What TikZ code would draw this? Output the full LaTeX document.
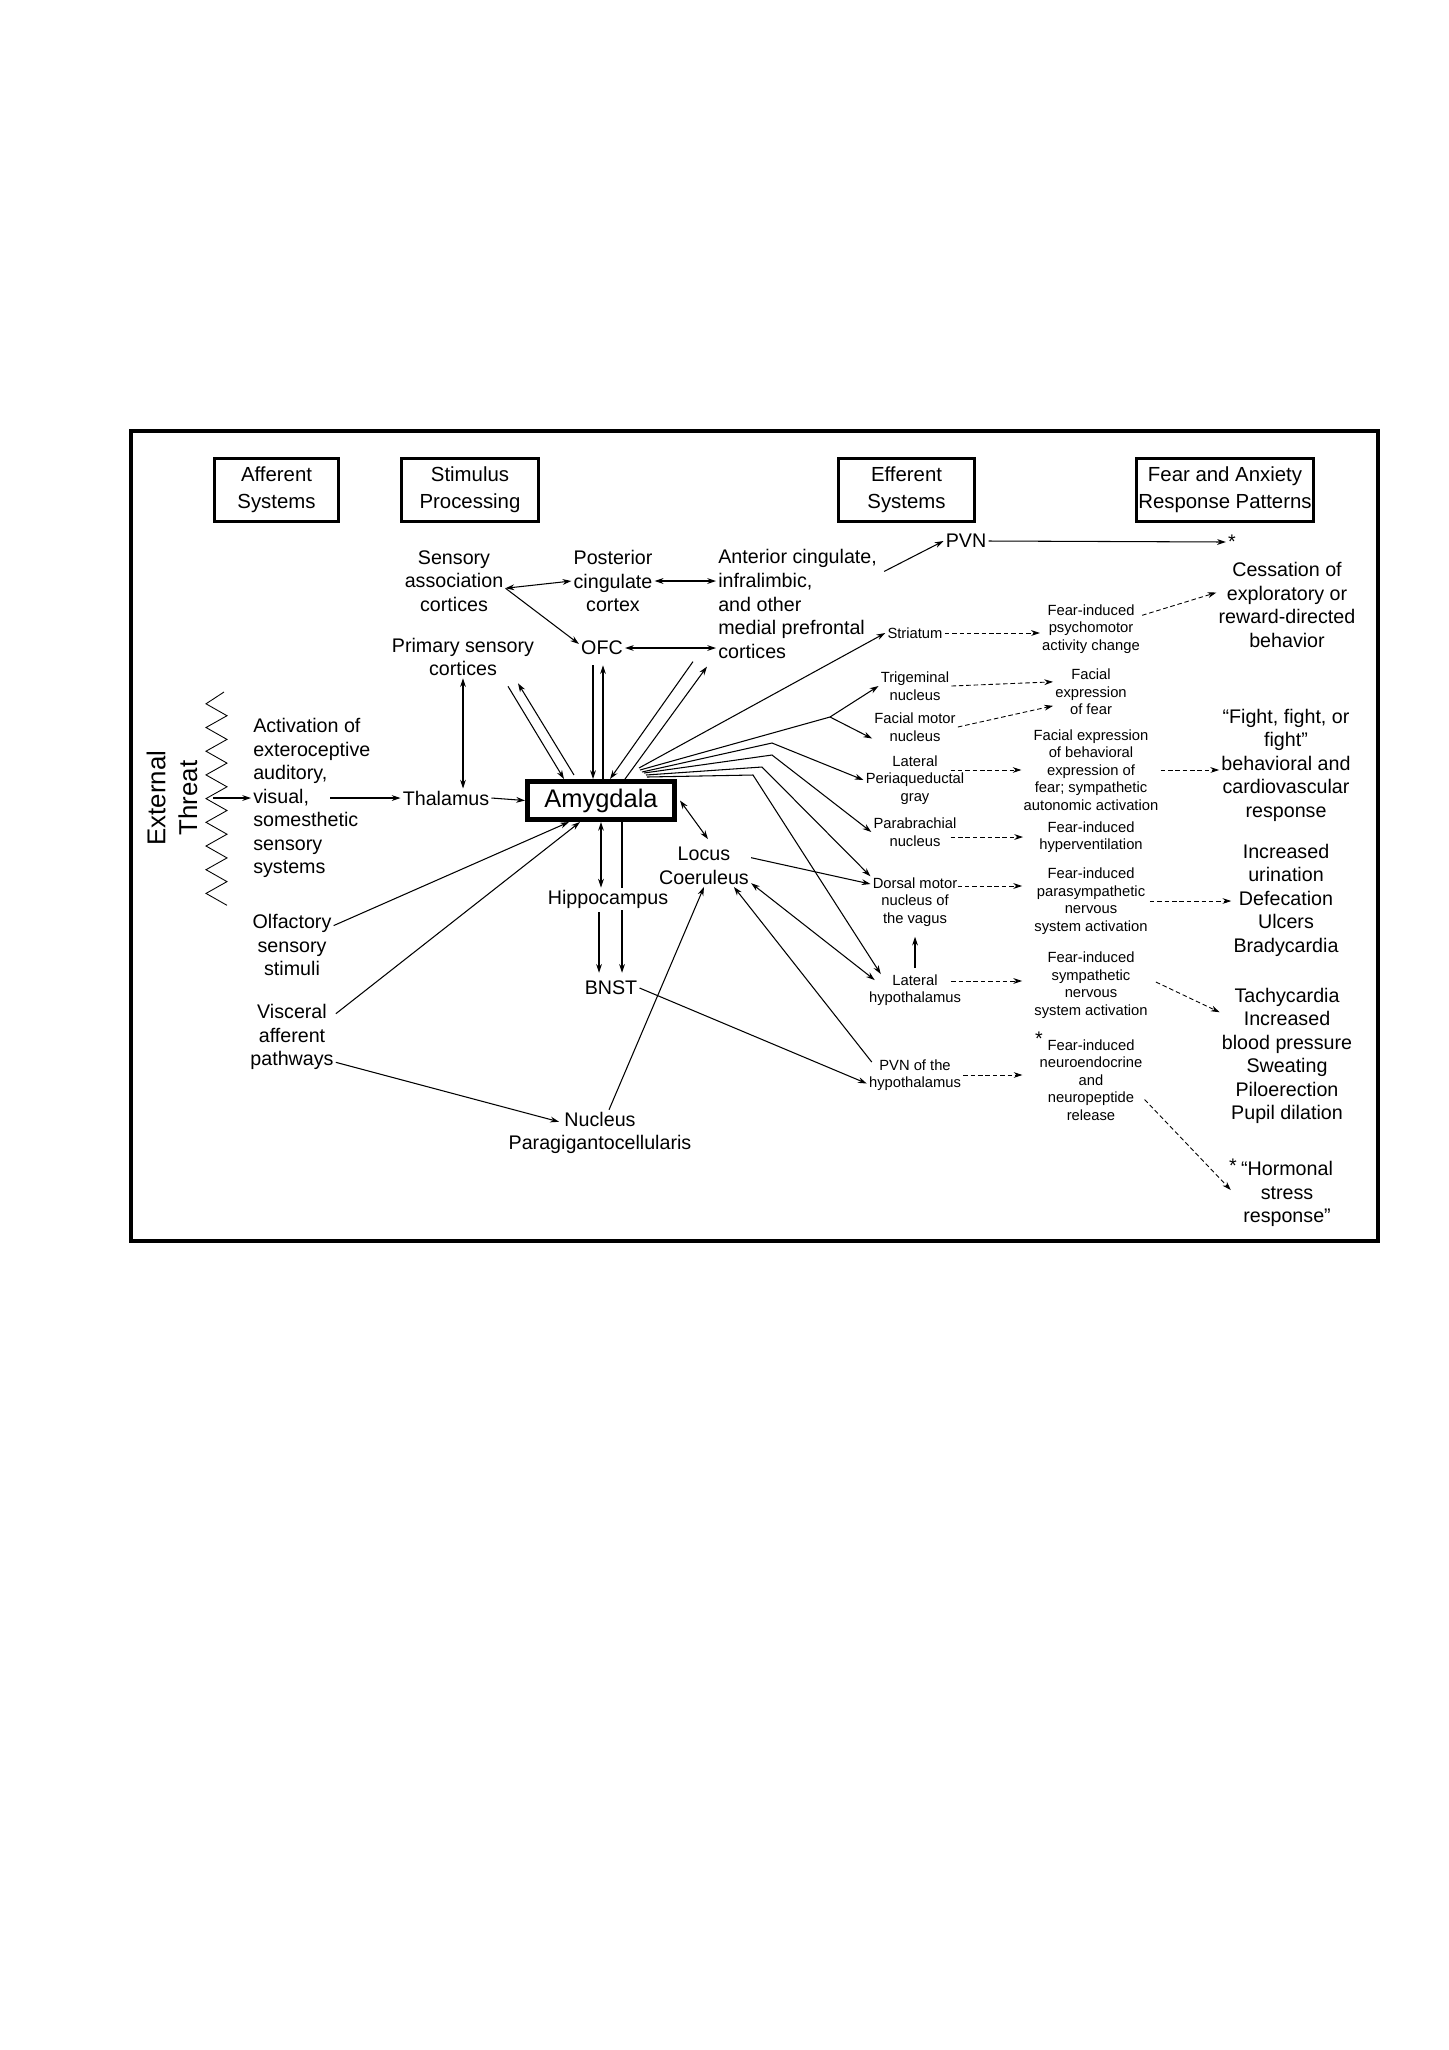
\documentclass[tikz,border=0pt]{standalone}
\usepackage{fontspec}
\setmainfont{Liberation Sans}
\usetikzlibrary{arrows.meta,calc}

\begin{document}
\begin{tikzpicture}[x=0.02cm, y=-0.02cm, line width=0.6pt, >={Stealth[length=5pt,width=3.3pt]},
    hdr/.style={draw, line width=1.5pt, align=center, minimum height=1.26cm, inner sep=0pt, font=\fontsize{11.6}{15.2}\selectfont},
    mid/.style={align=center, inner sep=1pt, font=\fontsize{11.2}{13.4}\selectfont},
    sml/.style={align=center, inner sep=1pt, font=\fontsize{8.4}{10}\selectfont},
    dsh/.style={->, line width=0.5pt, dash pattern=on 2.6pt off 1.6pt}]
            \useasboundingbox (0,0) rectangle (1448,2050);
            \draw[line width=1.9pt] (131,431) rectangle (1378,1241);
            \node[hdr, minimum width=2.48cm] (aff) at (276.5,490) {Afferent\\Systems};
            \node[hdr, minimum width=2.74cm] (stim) at (470,490) {Stimulus\\Processing};
            \node[hdr, minimum width=2.72cm] (eff) at (906.5,490) {Efferent\\Systems};
            \node[hdr, minimum width=3.54cm] (resp) at (1225,490) {Fear and Anxiety\\Response Patterns};
            \node[align=center, rotate=90, font=\fontsize{14.7}{18}\selectfont] (threat) at (172,798) {External\\Threat};
            \draw[line width=0.5pt] (224,692) \foreach \k in {0,...,8} { -- (206,{703.8+23.7*\k}) -- (227,{715.7+23.7*\k}) };
            \coordinate (zig) at (213,798);
            \node[mid, align=left, anchor=west] (act) at (251,798) {Activation of\\exteroceptive\\auditory,\\visual,\\somesthetic\\sensory\\systems};
            \node[mid] (olf) at (292,945) {Olfactory\\sensory\\stimuli};
            \node[mid] (visc) at (292,1037) {Visceral\\afferent\\pathways};
            \node[mid] (thal) at (446,798) {Thalamus};
            \node[draw, line width=2.85pt, minimum width=2.94cm, minimum height=0.76cm, inner sep=0pt, font=\fontsize{14.5}{17}\selectfont] (amyg) at (601,800.5) {Amygdala};
            \node[mid] (sens) at (454,581) {Sensory\\association\\cortices};
            \node[mid] (post) at (613,581) {Posterior\\cingulate\\cortex};
            \node[mid] (prim) at (463,657) {Primary sensory\\cortices};
            \node[mid] (ofc) at (602,648) {OFC};
            \node[mid, align=left, anchor=west] (mpfc) at (716,604) {Anterior cingulate,\\infralimbic,\\and other\\medial prefrontal\\cortices};
            \node[mid] (pvn) at (966,541) {PVN};
            \node[mid] (pvnstar) at (1232,542) {*};
            \node[mid] (hippo) at (608,899) {Hippocampus};
            \node[mid] (bnst) at (611,988) {BNST};
            \node[mid] (lc) at (704,866) {Locus\\Coeruleus};
            \node[mid] (npgc) at (600,1133) {Nucleus\\Paragigantocellularis};
            \node[sml] (str) at (915,633) {Striatum};
            \node[sml] (trig) at (915,686) {Trigeminal\\nucleus};
            \node[sml] (facm) at (915,727) {Facial motor\\nucleus};
            \node[sml] (lpag) at (915,780) {Lateral\\Periaqueductal\\gray};
            \node[sml] (pbn) at (915,832) {Parabrachial\\nucleus};
            \node[sml] (dmnv) at (915,902) {Dorsal motor\\nucleus of\\the vagus};
            \node[sml] (lhyp) at (915,990) {Lateral\\hypothalamus};
            \node[sml] (pvnh) at (915,1075) {PVN of the\\hypothalamus};
            \node[sml] (psym) at (1091,629) {Fear-induced\\psychomotor\\activity change};
            \node[sml] (facex) at (1091,692) {Facial\\expression\\of fear};
            \node[sml] (behex) at (1091,770) {Facial expression\\of behavioral\\expression of\\fear; sympathetic\\autonomic activation};
            \node[sml] (hyper) at (1091,837) {Fear-induced\\hyperventilation};
            \node[sml] (para) at (1091,901) {Fear-induced\\parasympathetic\\nervous\\system activation};
            \node[sml] (symp) at (1091,985) {Fear-induced\\sympathetic\\nervous\\system activation};
            \node[sml] (neuro) at (1091,1080) {Fear-induced\\neuroendocrine\\and\\neuropeptide\\release};
            \node[mid] (neurostar) at (1039,1039) {*};
            \node[mid] (cess) at (1287,605) {Cessation of\\exploratory or\\reward-directed\\behavior};
            \node[mid] (fight) at (1286,765) {“Fight, fight, or\\fight”\\behavioral and\\cardiovascular\\response};
            \node[mid] (urin) at (1286,900) {Increased\\urination\\Defecation\\Ulcers\\Bradycardia};
            \node[mid] (tachy) at (1287,1056) {Tachycardia\\Increased\\blood pressure\\Sweating\\Piloerection\\Pupil dilation};
            \node[mid] (horm) at (1287,1194) {“Hormonal\\stress\\response”};
            \node[mid] (hormstar) at (1233,1166) {*};
            \draw[<->] (sens.-8) -- (post.west);
            \draw[->] (sens.-8) -- (ofc.170);
            \draw[<->] (post.east) -- (post.east -| mpfc.west);
            \draw[<->] (ofc.east) -- (ofc.east -| mpfc.west);
            \draw[->] ($(mpfc.north east)+(5,24)$) -- (pvn.west);
            \draw[->] (pvn.east) -- (pvnstar.west);
            \draw[<->] (prim.south) -- (prim.south |- thal.north);
            \draw[->] (thal.east) -- (amyg.west);
            \draw[->] (zig) -- (act.west);
            \draw[->] ($(act.west)+(79,0)$) -- (thal.west);
            \draw[->] (olf.25) -- ($(amyg.south)+(-32,0)$);
            \draw[->] (visc.28) -- ($(amyg.south)+(-21,0)$);
            \draw[->] (visc.-30) -- ($(npgc.north)+(-41,12)$);
            \draw[->] ($(npgc.north)+(9,0)$) -- (lc.south);
            \draw[->] ($(prim.south)+(45,8)$) -- ($(amyg.north west)+(39,0)$);
            \draw[->] ($(amyg.north west)+(49,-4)$) -- ($(prim.south)+(55,5)$);
            \draw[->] ($(ofc.south)+(-9,8)$) -- ($(amyg.north)+(-8,0)$);
            \draw[->] ($(amyg.north)+(2,0)$) -- ($(ofc.south)+(1,8)$);
            \draw[->] ($(mpfc.south west)+(-23,1)$) -- ($(amyg.north)+(9,0)$);
            \draw[->] ($(amyg.north)+(24,0)$) -- ($(mpfc.south west)+(-9,6)$);
            \coordinate (fork) at (830,717);
            \draw[->] ($(amyg.north east)+(-38,-11)$) -- (str.west);
            \draw ($(amyg.north east)+(-37,-9)$) -- (fork);
            \draw[->] (fork) -- (trig.west);
            \draw[->] (fork) -- (facm.195);
            \draw[->] ($(amyg.north east)+(-35,-7)$) -- (772,743) -- (lpag.west);
            \draw[->] ($(amyg.north east)+(-33,-6)$) -- (772,755) -- (pbn.west);
            \draw[->] ($(amyg.north east)+(-31,-4)$) -- (762,767) -- (dmnv.150);
            \draw[->] ($(amyg.north east)+(-30,-2)$) -- (753,775) -- ($(lhyp.north west)+(14,2)$);
            \draw[<->] ($(amyg.east)+(3,0)$) -- ($(lc.north)+(4,-6)$);
            \draw[->] (lc.10) -- (dmnv.158);
            \draw[<->] (lc.-20) -- ($(lhyp.north west)+(8,8)$);
            \draw[->] ($(pvnh.north west)+(5,5)$) -- (lc.-35);
            \draw[->] (bnst.east) -- (pvnh.190);
            \draw[->] ($(lhyp.north)+(0,-4)$) -- ($(dmnv.south)+(0,8)$);
            \draw[<->] (amyg.south) -- (amyg.south |- hippo.north);
            \draw ($(amyg.south)+(21,0)$) -- ($(hippo.north)+(14,0)$);
            \draw[->] ($(hippo.south)+(14,0)$) -- ($(bnst.north)+(11,-6)$);
            \draw[->] ($(hippo.south)+(-9,2)$) -- ($(bnst.north)+(-12,-6)$);
            \draw[dsh] (str.east) -- (str.east -| psym.west);
            \draw[dsh] (psym.15) -- (cess.170);
            \draw[dsh] (trig.east) -- (facex.165);
            \draw[dsh] (facm.east) -- (facex.200);
            \draw[dsh] ($(lpag.east)+(-16,-10)$) -- (behex.west);
            \draw[dsh] (behex.east) -- (behex.east -| fight.west);
            \draw[dsh] ($(pbn.east)+(-8,5)$) -- ($(hyper.west)+(-14,0)$);
            \draw[dsh] ($(dmnv.east)+(-2,-16)$) -- ($(para.west)+(-10,-15)$);
            \draw[dsh] ($(lhyp.east)+(-12,-9)$) -- ($(symp.west)+(-10,-4)$);
            \draw[dsh] (pvnh.east) -- ($(neuro.west)+(-15,-5)$);
            \draw[dsh] (para.east) -- (para.east -| urin.west);
            \draw[dsh] ($(symp.east)+(6,-3)$) -- (tachy.147);
            \draw[dsh] (neuro.-20) -- ($(horm.west)+(-8,-4)$);
\end{tikzpicture}
\end{document}
